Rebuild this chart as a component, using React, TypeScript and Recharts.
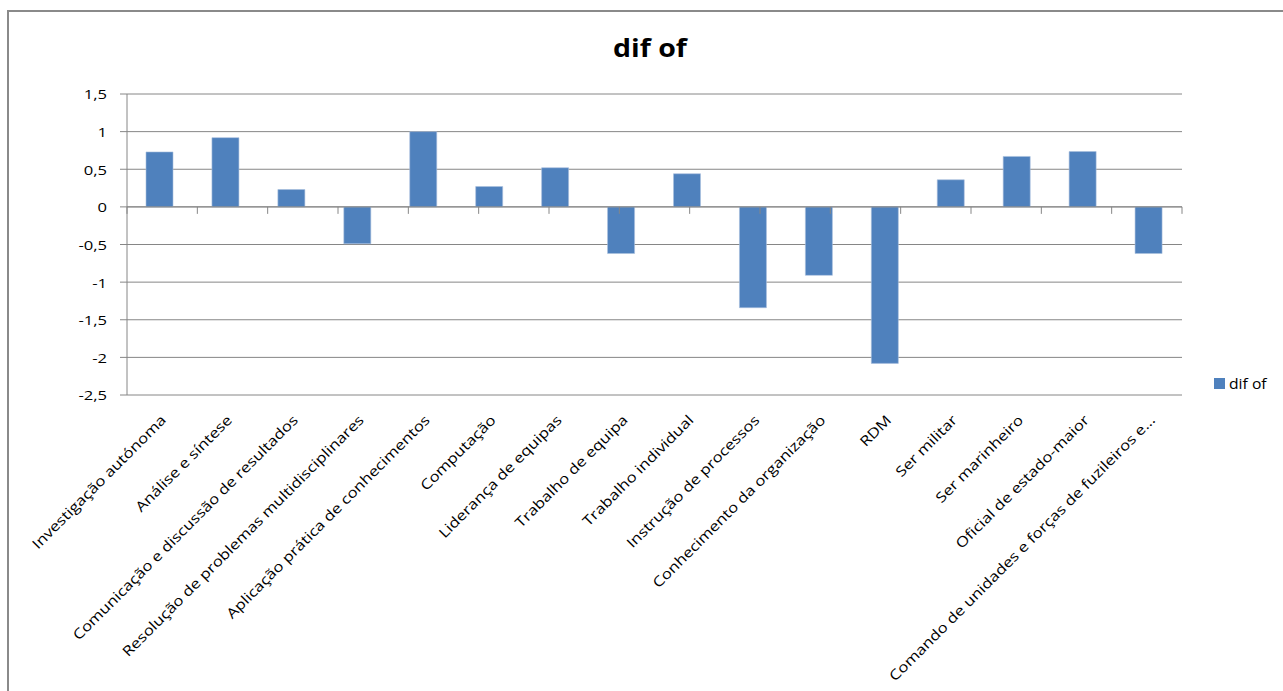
import React from "react";
import {
  BarChart,
  Bar,
  XAxis,
  YAxis,
  CartesianGrid,
  ReferenceLine,
  Legend,
} from "recharts";

// Competence categories along the horizontal axis
const categories: string[] = [
  "Investigação autónoma",
  "Análise e síntese",
  "Comunicação e discussão de resultados",
  "Resolução de problemas multidisciplinares",
  "Aplicação prática de conhecimentos",
  "Computação",
  "Liderança de equipas",
  "Trabalho de equipa",
  "Trabalho individual",
  "Instrução de processos",
  "Conhecimento da organização",
  "RDM",
  "Ser militar",
  "Ser marinheiro",
  "Oficial de estado-maior",
  "Comando de unidades e forças de fuzileiros e…",
];

// Series "dif of"
const seriesName = "dif of";
const difOf: number[] = [
  0.73, 0.92, 0.23, -0.49, 1.0, 0.27, 0.52, -0.62, 0.44, -1.34, -0.91, -2.08,
  0.36, 0.67, 0.735, -0.62,
];

// Value axis ticks
const yTicks: number[] = [1.5, 1, 0.5, 0, -0.5, -1, -1.5, -2, -2.5];

// Category boundaries (0 .. n) for the small tick marks on the zero line
const boundaries: number[] = [0, ...categories.map((_, i) => i + 1)];

const data = categories.map((name, i) => ({ name, value: difOf[i] }));

const FONT = "'Open Sans', 'DejaVu Sans', sans-serif";
const GRAY = "#868686";
const BLUE = "#4F81BD";

const fmt = (v: number) => String(v).replace(".", ",");

const YTick = (props: any) => {
  const { x, y, payload } = props;
  return (
    <g transform={`translate(${x},${y}) scale(1.23,1)`}>
      <text
        x={0}
        y={0}
        dy="0.4em"
        textAnchor="end"
        fontFamily={FONT}
        fontSize={13.5}
        fill="#000"
      >
        {fmt(payload.value)}
      </text>
    </g>
  );
};

const XTick = (props: any) => {
  const { x, y, payload } = props;
  return (
    <g transform={`translate(${x + 7},${y + 26}) rotate(-45) scale(1.2,1)`}>
      <text x={0} y={0} textAnchor="end" fontFamily={FONT} fontSize={14} fill="#000">
        {payload.value}
      </text>
    </g>
  );
};

const LegendContent = (props: any) => {
  const { payload } = props;
  return (
    <div style={{ display: "flex", flexDirection: "column" }}>
      {(payload || []).map((entry: any) => (
        <div
          key={entry.value}
          style={{ display: "flex", alignItems: "center", whiteSpace: "nowrap" }}
        >
          <span
            style={{
              display: "inline-block",
              width: 11,
              height: 11,
              background: entry.color,
              marginRight: 4,
            }}
          />
          <span
            style={{
              fontFamily: FONT,
              fontSize: 14,
              color: "#000",
              display: "inline-block",
              transform: `scaleX(1.12)`,
              transformOrigin: "left center",
            }}
          >
            {entry.value}
          </span>
        </div>
      ))}
    </div>
  );
};

export default function App() {
  return (
    <div
      style={{
        position: "absolute",
        left: 0,
        top: 0,
        width: 1283,
        height: 691,
        overflow: "hidden",
        background: "#fff",
      }}
    >
      {/* chart frame */}
      <div
        style={{
          position: "absolute",
          left: 7,
          top: 10,
          width: 1276,
          height: 681,
          boxSizing: "border-box",
          borderTop: "2px solid #8a8a8a",
          borderLeft: "2px solid #8a8a8a",
        }}
      />
      {/* title */}
      <div
        style={{
          position: "absolute",
          left: 0,
          width: 1300,
          top: 30,
          textAlign: "center",
          fontFamily: FONT,
          fontWeight: 700,
          fontSize: 25,
          lineHeight: "34px",
          color: "#000",
          transform: "scaleX(1.14)",
          transformOrigin: "650px 0",
        }}
      >
        {seriesName}
      </div>
      <div style={{ position: "absolute", left: 0, top: 0 }}>
        <BarChart
          width={1283}
          height={691}
          data={data}
          margin={{ top: 94, right: 101, left: 0, bottom: 6 }}
          barSize={27}
        >
          <CartesianGrid horizontal vertical={false} stroke={GRAY} strokeWidth={1} />
          <XAxis
            dataKey="name"
            type="category"
            interval={0}
            height={290}
            axisLine={false}
            tickLine={false}
            tickSize={0}
            tickMargin={0}
            tick={<XTick />}
          />
          <XAxis xAxisId="edges" type="number" domain={[0, categories.length]} allowDataOverflow hide />
          <YAxis
            type="number"
            domain={[-2.5, 1.5]}
            ticks={yTicks}
            interval={0}
            allowDataOverflow
            width={127}
            axisLine={{ stroke: GRAY, strokeWidth: 1 }}
            tickLine={{ stroke: GRAY, strokeWidth: 1 }}
            tickSize={7}
            tickMargin={13}
            tick={<YTick />}
          />
          {boundaries.map((b) => (
            <ReferenceLine
              key={b}
              xAxisId="edges"
              segment={[
                { x: b, y: 0 },
                { x: b, y: -0.093 },
              ]}
              stroke={GRAY}
              strokeWidth={1}
            />
          ))}
          <ReferenceLine y={0} stroke={GRAY} strokeWidth={1} />
          <Bar
            dataKey="value"
            name={seriesName}
            fill={BLUE}
            stroke="#a9c0de"
            strokeWidth={0.6}
            isAnimationActive={false}
          />
          <Legend
            layout="horizontal"
            align="center"
            verticalAlign="middle"
            content={<LegendContent />}
            wrapperStyle={{ left: 1214, top: 374, width: 70, height: 20 }}
          />
        </BarChart>
      </div>
    </div>
  );
}
